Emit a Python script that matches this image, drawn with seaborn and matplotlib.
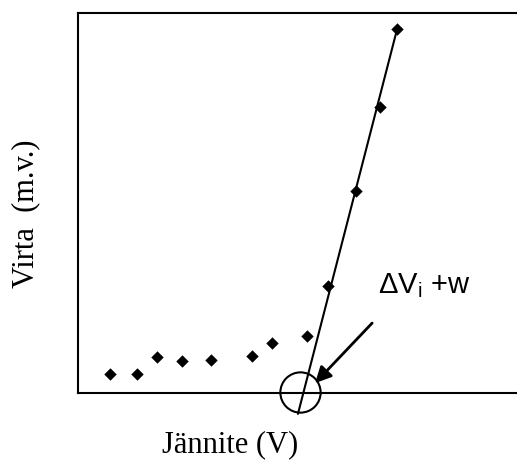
import numpy as np
import pandas as pd
import matplotlib
matplotlib.use("Agg")
import matplotlib.pyplot as plt
import seaborn as sns

# measured points (arbitrary units)
voltage = [0.73, 1.34, 1.80, 2.37, 3.03, 3.96, 4.42, 5.22, 5.70, 6.33, 6.88, 7.27]
current = [0.50, 0.50, 0.95, 0.84, 0.87, 0.97, 1.32, 1.50, 2.82, 5.32, 7.53, 9.58]

# straight fit through the steep part
fit_x = [5.01, 7.27]
fit_y = [-0.55, 9.58]

df = pd.DataFrame({"V": voltage, "I": current})

sns.set_style("white")
plt.rcParams["mathtext.default"] = "regular"
plt.rcParams["text.color"] = "black"

fig = plt.figure(figsize=(5.17, 4.61), dpi=100)
W, H = 517, 461
ax = fig.add_axes([78 / W, (H - 393) / H, 460 / W, 380 / H])

sns.scatterplot(data=df, x="V", y="I", marker="D", s=40, color="black",
                edgecolor="black", linewidth=0, ax=ax, zorder=3)
sns.lineplot(x=fit_x, y=fit_y, color="black", linewidth=1.5, ax=ax,
             clip_on=False, zorder=2)

ax.set_xlim(0, 460 / 43.9)
ax.set_ylim(0, 10)
ax.set_xticks([])
ax.set_yticks([])
for side in ["left", "top", "bottom"]:
    ax.spines[side].set_linewidth(1.5)
    ax.spines[side].set_color("black")
ax.spines["right"].set_visible(False)

# circle around the intercept
ax.plot([5.06], [0.03], marker="o", markersize=29, markerfacecolor="none",
        markeredgecolor="black", markeredgewidth=1.5, clip_on=False, zorder=4)

ax.annotate("", xy=(5.40, 0.26), xytext=(6.70, 1.84),
            arrowprops=dict(arrowstyle="-|>", color="black", lw=2,
                            mutation_scale=24, shrinkA=0, shrinkB=0))
ax.text(6.84, 2.63, "ΔV$_{i}$ +w", fontsize=21, family="Liberation Sans",
        color="black", va="baseline", ha="left")

ax.set_xlabel("")
ax.set_ylabel("")
fig.text(230 / W, (H - 452) / H, "Jännite (V)", fontsize=22, color="black",
         family="Liberation Serif", ha="center", va="baseline")
fig.text(33 / W, (H - 214) / H, "Virta  (m.v.)", fontsize=22, color="black",
         family="Liberation Serif", ha="center", va="baseline",
         rotation=90, rotation_mode="anchor")

fig.savefig("out.png", dpi=100)
